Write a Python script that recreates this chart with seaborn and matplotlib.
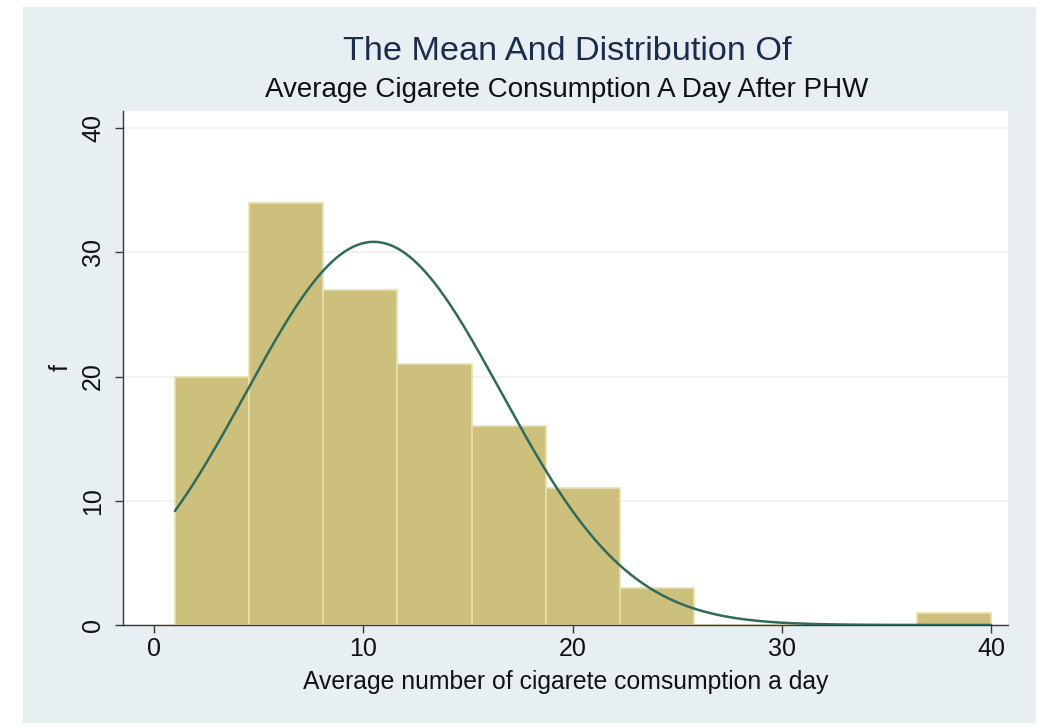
import numpy as np
import pandas as pd
import matplotlib
matplotlib.use("Agg")
import matplotlib.pyplot as plt
import seaborn as sns
from matplotlib.patches import Rectangle

# ---- data ----
bin_edges = [float(v) for v in np.linspace(1, 40, 12)]   # 11 bins of width ~3.545
bin_counts = [20, 34, 27, 21, 16, 11, 3, 0, 0, 0, 1]
fit_mean = 10.5
fit_sd = 6.1
x_ticks = [0, 10, 20, 30, 40]
y_ticks = [0, 10, 20, 30, 40]

title_main = "The Mean And Distribution Of"
title_sub = "Average Cigarete Consumption A Day After PHW"
x_label = "Average number of cigarete comsumption a day"
y_label = "f"

sns.set_theme(style="white")
plt.rcParams['font.family'] = ['Liberation Sans', 'DejaVu Sans']

fig = plt.figure(figsize=(10.4, 7.28), dpi=100)
fig.patch.set_facecolor("white")
bg = Rectangle((23/1040, 5/728), (1036-23)/1040, (723-7)/728,
               transform=fig.transFigure, facecolor="#e8eff2",
               edgecolor="none", zorder=-10)
fig.patches.append(bg)

ax = fig.add_axes([123/1040, (728-625)/728, (1008-123)/1040, (625-111)/728])
ax.set_zorder(5)
ax.set_facecolor("white")

edges = np.array(bin_edges)
centers = (edges[:-1] + edges[1:]) / 2
df = pd.DataFrame({"x": centers, "w": np.array(bin_counts, dtype=float)})
sns.histplot(data=df, x="x", weights="w", bins=bin_edges, ax=ax,
             color="#cdc07c", edgecolor="#e9e0ac", linewidth=1.2, alpha=1, zorder=2)

width = edges[1] - edges[0]
n_total = sum(bin_counts)
xs = np.linspace(edges[0], edges[-1], 400)
ys = n_total * width * np.exp(-0.5 * ((xs - fit_mean) / fit_sd) ** 2) / (fit_sd * np.sqrt(2 * np.pi))
sns.lineplot(x=xs, y=ys, ax=ax, color="#2f6a5c", linewidth=1.8, zorder=3)

ax.set_xlim(-1.48, 40.81)
ax.set_ylim(0, 41.37)
ax.set_xticks(x_ticks)
ax.set_yticks(y_ticks)
ax.yaxis.grid(True, color="#f0f0f0", linewidth=1.2, zorder=0)
ax.set_axisbelow(True)
for s in ["top", "right"]:
    ax.spines[s].set_visible(False)
for s in ["left", "bottom"]:
    ax.spines[s].set_color("#3a3a3a")
    ax.spines[s].set_linewidth(1.0)
ax.tick_params(axis="both", direction="out", length=6, width=1, color="#3a3a3a",
               labelsize=18, labelcolor="#111111", bottom=True, left=True, pad=3)
ax.tick_params(axis="y", pad=7)
for lab in ax.get_yticklabels():
    lab.set_rotation(90)
    lab.set_va("center")

ax.set_xlabel(x_label, fontsize=17.8, color="#111111", labelpad=6)
ax.set_ylabel(y_label, fontsize=18, color="#111111", labelpad=6)

fig.text(567/1040, 1 - 51/728, title_main, ha="center", va="center",
         fontsize=24.7, color="#1c2c4c")
fig.text(567/1040, 1 - 90/728, title_sub, ha="center", va="center",
         fontsize=20, color="#111111")

fig.savefig("out.png", dpi=100)
